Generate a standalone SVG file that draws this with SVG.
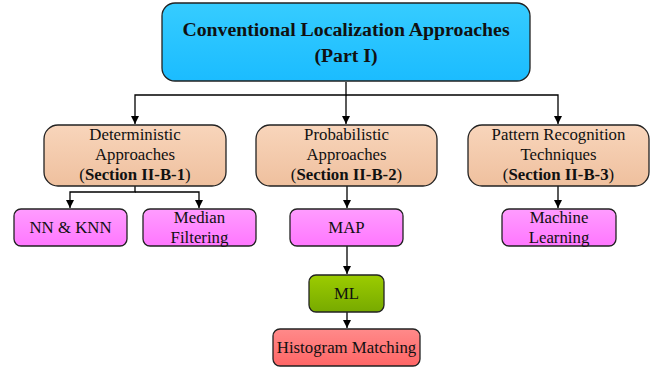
<svg xmlns="http://www.w3.org/2000/svg" width="660" height="372" viewBox="0 0 660 372">
<defs>
<linearGradient id="gBlue" x1="0" y1="0" x2="0" y2="1"><stop offset="0" stop-color="#36ccff"/><stop offset="1" stop-color="#1bbcff"/></linearGradient>
<linearGradient id="gOrange" x1="0" y1="0" x2="0" y2="1"><stop offset="0" stop-color="#f8d5bb"/><stop offset="1" stop-color="#efc09e"/></linearGradient>
<linearGradient id="gPink" x1="0" y1="0" x2="0" y2="1"><stop offset="0" stop-color="#ff9cff"/><stop offset="1" stop-color="#ff77ff"/></linearGradient>
<linearGradient id="gGreen" x1="0" y1="0" x2="0" y2="1"><stop offset="0" stop-color="#9ccc00"/><stop offset="1" stop-color="#77aa00"/></linearGradient>
<linearGradient id="gRed" x1="0" y1="0" x2="0" y2="1"><stop offset="0" stop-color="#ff8a8a"/><stop offset="1" stop-color="#ff6666"/></linearGradient>
<marker id="arr" viewBox="0 0 10 10" refX="10" refY="5" markerWidth="8" markerHeight="8" markerUnits="userSpaceOnUse" orient="auto"><path d="M0,0 L10,5 L0,10 Z" fill="#000"/></marker>
</defs>
<style>
.box{stroke:#222;stroke-width:1.3}
text{font-family:"Liberation Serif","Times New Roman",serif;fill:#111;text-anchor:middle}
.t{font-size:16.8px}
.b{font-weight:bold}
.title{font-size:19.8px;font-weight:bold}
.c{fill:none;stroke:#000;stroke-width:1.3}
</style>
<g id="connectors">
<path class="c" d="M346,82 V95 H135 V124" marker-end="url(#arr)"/>
<path class="c" d="M346,95 V124" marker-end="url(#arr)"/>
<path class="c" d="M346,95 H558 V124" marker-end="url(#arr)"/>
<path class="c" d="M135,186 V192 H70 V208" marker-end="url(#arr)"/>
<path class="c" d="M135,192 H199 V208" marker-end="url(#arr)"/>
<path class="c" d="M347,186 V208" marker-end="url(#arr)"/>
<path class="c" d="M558,186 V208" marker-end="url(#arr)"/>
<path class="c" d="M347,246 V274" marker-end="url(#arr)"/>
<path class="c" d="M347,312 V328" marker-end="url(#arr)"/>
</g>
<g id="top">
<rect class="box" x="162" y="3" width="368" height="78" rx="13" fill="url(#gBlue)"/>
<text class="title" x="346" y="36">Conventional Localization Approaches</text>
<text class="title" x="346" y="62">(Part I)</text>
</g>
<g id="deterministic">
<rect class="box" x="44" y="125" width="182" height="61" rx="14" fill="url(#gOrange)"/>
<text class="t" x="135" y="140">Deterministic</text>
<text class="t" x="135" y="160">Approaches</text>
<text class="t" x="135" y="180">(<tspan class="b">Section II-B-1</tspan>)</text>
</g>
<g id="probabilistic">
<rect class="box" x="256" y="125" width="181" height="61" rx="14" fill="url(#gOrange)"/>
<text class="t" x="346.5" y="140">Probabilistic</text>
<text class="t" x="346.5" y="160">Approaches</text>
<text class="t" x="346.5" y="180">(<tspan class="b">Section II-B-2</tspan>)</text>
</g>
<g id="pattern">
<rect class="box" x="468" y="125" width="181" height="61" rx="14" fill="url(#gOrange)"/>
<text class="t" x="558.5" y="140">Pattern Recognition</text>
<text class="t" x="558.5" y="160">Techniques</text>
<text class="t" x="558.5" y="180">(<tspan class="b">Section II-B-3</tspan>)</text>
</g>
<g id="nnknn">
<rect class="box" x="14" y="209" width="113" height="37" rx="7" fill="url(#gPink)"/>
<text class="t" x="70.5" y="233">NN &amp; KNN</text>
</g>
<g id="median">
<rect class="box" x="143" y="209" width="113" height="37" rx="7" fill="url(#gPink)"/>
<text class="t" x="199.5" y="223">Median</text>
<text class="t" x="199.5" y="243">Filtering</text>
</g>
<g id="map">
<rect class="box" x="290" y="209" width="113" height="37" rx="7" fill="url(#gPink)"/>
<text class="t" x="346.5" y="233">MAP</text>
</g>
<g id="machine">
<rect class="box" x="502" y="209" width="114" height="37" rx="7" fill="url(#gPink)"/>
<text class="t" x="559" y="223">Machine</text>
<text class="t" x="559" y="243">Learning</text>
</g>
<g id="ml">
<rect class="box" x="309" y="275" width="75" height="37" rx="7" fill="url(#gGreen)"/>
<text class="t" x="346.5" y="299">ML</text>
</g>
<g id="histogram">
<rect class="box" x="273" y="329" width="147" height="37" rx="7" fill="url(#gRed)"/>
<text class="t" x="346.5" y="353">Histogram Matching</text>
</g>
</svg>
